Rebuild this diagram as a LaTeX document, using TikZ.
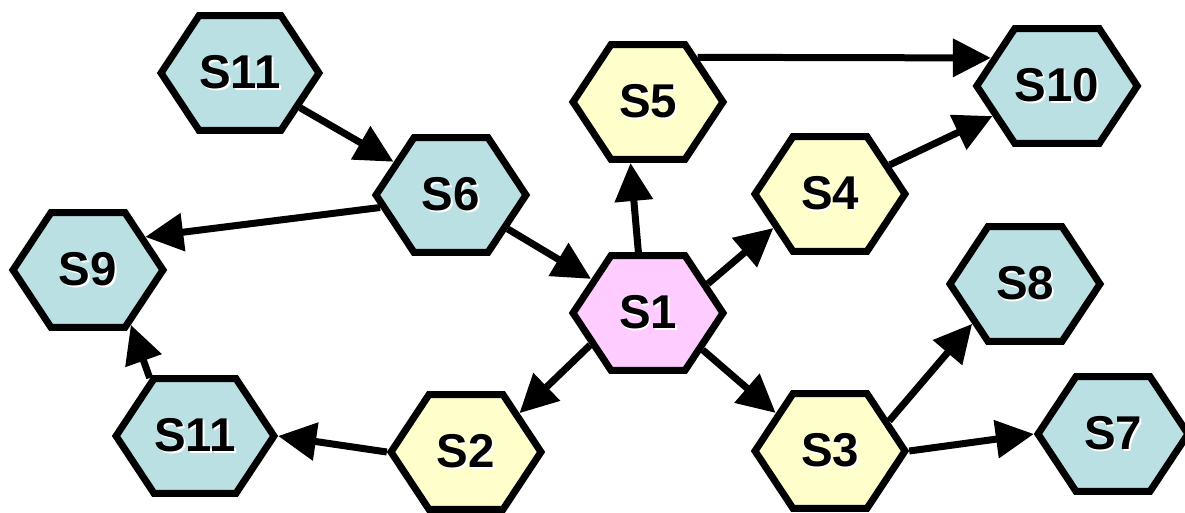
\documentclass[tikz,border=0pt]{standalone}
\usepackage{fontspec}
\setmainfont{Liberation Sans}
\usepackage{tikz}
\usetikzlibrary{shapes,arrows.meta,positioning}
\definecolor{HexBlue}{RGB}{186,224,227}
\definecolor{HexYellow}{RGB}{255,255,204}
\definecolor{HexPink}{RGB}{255,204,255}
\newcommand{\shadowed}[1]{\rlap{\hspace{1.1pt}\raisebox{-1.1pt}{\textcolor{white}{#1}}}#1}

\begin{document}
\begin{tikzpicture}[x=0.02cm, y=-0.02cm,
    hexa/.style={signal, signal to=east and west, signal pointer angle=113,
      draw, line width=0.14cm, minimum width=3.0cm, minimum height=2.3cm,
      inner sep=0pt, font=\fontsize{27}{32}\selectfont\bfseries},
    link/.style={line width=0.14cm, -{Triangle[length=0.76cm, width=0.74cm]}}]
    \useasboundingbox (0,0) rectangle (1185,513);

    % centre
    \node[hexa, fill=HexPink] (s1) at (648,313) {\shadowed{S1}};

    % first ring
    \node[hexa, fill=HexYellow] (s2) at (466,452) {\shadowed{S2}};
    \node[hexa, fill=HexYellow] (s3) at (830,451) {\shadowed{S3}};
    \node[hexa, fill=HexYellow] (s4) at (830,194) {\shadowed{S4}};
    \node[hexa, fill=HexYellow] (s5) at (648,102) {\shadowed{S5}};

    % outer states
    \node[hexa, fill=HexBlue] (s6) at (451,195) {\shadowed{S6}};
    \node[hexa, fill=HexBlue] (s7) at (1113,434) {\shadowed{S7}};
    \node[hexa, fill=HexBlue] (s8) at (1025,284) {\shadowed{S8}};
    \node[hexa, fill=HexBlue] (s9) at (88,270) {\shadowed{S9}};
    \node[hexa, fill=HexBlue] (s10) at (1057,86) {\shadowed{S10}};
    \node[hexa, fill=HexBlue] (s11a) at (240,73) {\shadowed{S11}};
    \node[hexa, fill=HexBlue] (s11b) at (195,436) {\shadowed{S11}};

    % arrows
    \draw[link] (s11a) -- (s6);
    \draw[link] (s6) -- (s1);
    \draw[link] (s6.190) -- (s9.30);
    \draw[link] (s11b.128) -- (s9.308);
    \draw[link] (s2.west) -- (s11b.east);
    \draw[link] (s1.209) -- (s2.36);
    \draw[link] (s1.99) -- (s5.254);
    \draw[link] (s1.26) -- (s4.211);
    \draw[link] (s1.326) -- (s3.145);
    \draw[link] (s5.42) -- (s10.157);
    \draw[link] (s4.26) -- (s10.205);
    \draw[link] (s3.27) -- (s8.217);
    \draw[link] (s3.east) -- (s7.west);
  \end{tikzpicture}
\end{document}
